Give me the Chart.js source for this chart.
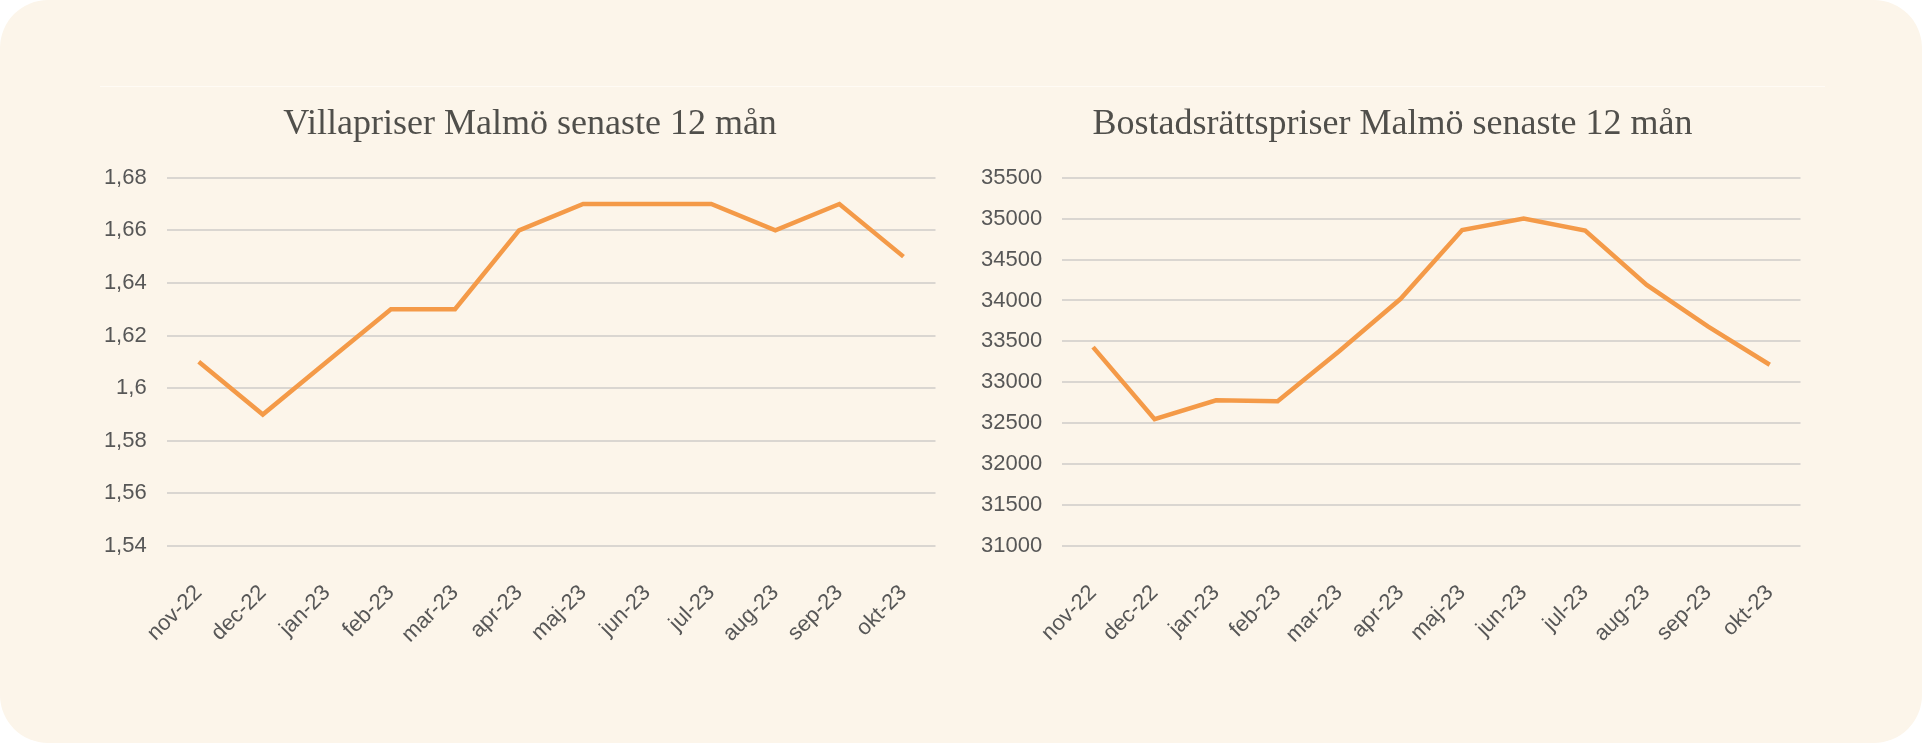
<!DOCTYPE html>
<html>
<head>
<meta charset="utf-8">
<script src="https://cdn.jsdelivr.net/npm/chart.js@4/dist/chart.umd.min.js"></script>
<style>
  html, body { margin: 0; padding: 0; background: #ffffff; }
  body { width: 1922px; height: 743px; position: relative; overflow: hidden; }
  #card { position: absolute; left: 0; top: 0; width: 1922px; height: 743px; background: #FCF5EA; border-radius: 48px; }
  #frame { position: absolute; left: 100px; top: 86px; width: 1725px; height: 0; border-top: 1px solid #FFFBF5; }
  .box { position: absolute; top: 86px; height: 560px; }
  #leftBox { left: 100px; width: 860px; }
  #rightBox { left: 960px; width: 865px; }
</style>
</head>
<body>
<div id="card"></div>
<div id="frame"></div>
<div class="box" id="leftBox"><canvas id="villa"></canvas></div>
<div class="box" id="rightBox"><canvas id="bostad"></canvas></div>
<script>
const months = ['nov-22','dec-22','jan-23','feb-23','mar-23','apr-23','maj-23','jun-23','jul-23','aug-23','sep-23','okt-23'];
const villaValues = [1.61, 1.59, 1.61, 1.63, 1.63, 1.66, 1.67, 1.67, 1.67, 1.66, 1.67, 1.65];
const bostadValues = [33430, 32550, 32780, 32770, 33380, 34020, 34860, 35000, 34855, 34190, 33680, 33215];
const villaTitle = 'Villapriser Malmö senaste 12 mån';
const bostadTitle = 'Bostadsrättspriser Malmö senaste 12 mån';
const villaTicks = ['1,54', '1,56', '1,58', '1,6', '1,62', '1,64', '1,66', '1,68'];
const bostadTicks = ['31000', '31500', '32000', '32500', '33000', '33500', '34000', '34500', '35000', '35500'];

const LINE = '#F49A48';
const GRID = '#DAD6D1';
const TEXT = '#575757';
const SANS = '"Liberation Sans", Arial, sans-serif';

function makeChart(id, title, values, tickLabels, yMin, yMax, step, yWidth) {
  return new Chart(document.getElementById(id), {
    type: 'line',
    data: {
      labels: months,
      datasets: [{
        data: values,
        yAxisID: 'y',
        borderColor: LINE,
        borderWidth: 4.5,
        pointRadius: 0,
        pointHoverRadius: 0,
        tension: 0,
        fill: false,
        borderJoinStyle: 'miter',
        borderCapStyle: 'butt'
      }]
    },
    options: {
      responsive: true,
      maintainAspectRatio: false,
      animation: false,
      layout: { padding: 0 },
      plugins: {
        legend: { display: false },
        tooltip: { enabled: false },
        title: {
          display: true,
          text: title,
          color: '#504F4B',
          font: { family: '"Liberation Serif", "DejaVu Serif", serif', size: 36, weight: 'normal' },
          padding: { top: 17, bottom: 31.5 }
        }
      },
      scales: {
        x: {
          offset: true,
          grid: { display: false, drawTicks: false },
          border: { display: false },
          afterFit: (s) => { s.height = 100; },
          ticks: {
            autoSkip: false,
            minRotation: 45,
            maxRotation: 45,
            padding: 34,
            color: TEXT,
            font: { family: SANS, size: 22 }
          }
        },
        y: {
          position: 'left',
          min: yMin,
          max: yMax,
          afterFit: (s) => { s.width = yWidth; },
          grid: { color: GRID, lineWidth: 2, drawTicks: false },
          border: { display: false },
          ticks: {
            stepSize: step,
            padding: 20,
            color: TEXT,
            font: { family: SANS, size: 22 },
            callback: (v, i) => tickLabels[i]
          }
        },
        yPad: {
          position: 'right',
          display: true,
          grid: { display: false, drawTicks: false },
          border: { display: false },
          ticks: { display: false },
          afterFit: (s) => { s.width = 24.5; }
        }
      }
    }
  });
}

makeChart('villa', villaTitle, villaValues, villaTicks, 1.54, 1.68, 0.02, 66.7);
makeChart('bostad', bostadTitle, bostadValues, bostadTicks, 31000, 35500, 500, 102.3);
</script>
</body>
</html>
